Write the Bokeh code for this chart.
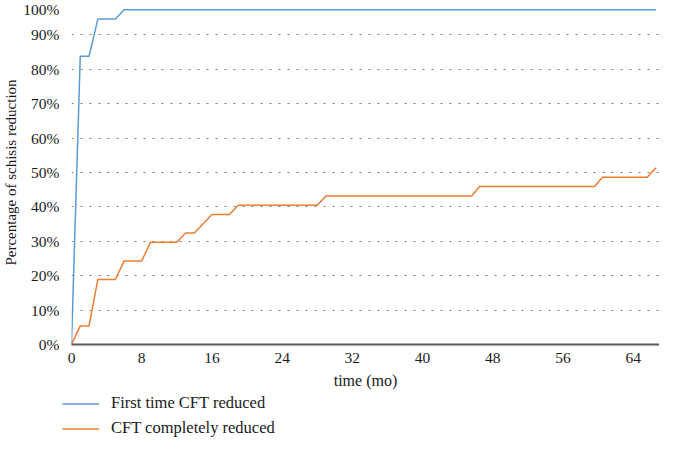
from bokeh.plotting import figure
from bokeh.layouts import column
from bokeh.models import Legend, LegendItem, PrintfTickFormatter, FixedTicker, Range1d
from bokeh.embed import file_html
from bokeh.resources import INLINE

# Data
months_first = [0, 1, 2, 3, 5, 6, 66.6]
pct_first = [0, 83.8, 83.8, 94.6, 94.6, 97.3, 97.3]

months_complete = [0, 1, 2, 3, 5, 6, 8, 9, 12, 13, 14, 16, 18, 19, 28, 29,
                   45.6, 46.5, 59.6, 60.5, 65.6, 66.6]
pct_complete = [0, 5.4, 5.4, 18.9, 18.9, 24.3, 24.3, 29.7, 29.7, 32.4, 32.4,
                37.8, 37.8, 40.5, 40.5, 43.2, 43.2, 45.9, 45.9, 48.6, 48.6, 51.4]

x_ticks = [0, 8, 16, 24, 32, 40, 48, 56, 64]
y_ticks = [0, 10, 20, 30, 40, 50, 60, 70, 80, 90, 100]

series_names = ["First time CFT reduced", "CFT completely reduced"]
series_colors = ["#5B9BD5", "#ED7D31"]

FONT = "Liberation Serif"
TEXT = "#1a1a1a"

p = figure(width=659, height=391, output_backend="svg", toolbar_location=None,
           x_range=Range1d(0, 67), y_range=Range1d(0, 100),
           min_border_left=0, min_border_right=0, min_border_top=0,
           min_border_bottom=40)
p.frame_align = False
p.outline_line_color = None
p.background_fill_color = "white"
p.border_fill_color = "white"

r1 = p.line(months_first, pct_first, line_color=series_colors[0], line_width=1.5)
r2 = p.line(months_complete, pct_complete, line_color=series_colors[1], line_width=1.5)

# Grid
p.xgrid.grid_line_color = None
p.ygrid.ticker = FixedTicker(ticks=y_ticks)
p.ygrid.grid_line_color = "#7a7a7a"
p.ygrid.grid_line_width = 1.2
p.ygrid.grid_line_dash = "2 7"

# Y axis
p.yaxis.ticker = FixedTicker(ticks=y_ticks)
p.yaxis.formatter = PrintfTickFormatter(format="%d%%")
p.yaxis.axis_line_color = None
p.yaxis.major_tick_line_color = None
p.yaxis.minor_tick_line_color = None
p.yaxis.major_label_standoff = 6
p.yaxis.major_label_text_font = FONT
p.yaxis.major_label_text_font_size = "15.5px"
p.yaxis.major_label_text_color = TEXT
p.yaxis.axis_label = "Percentage of schisis reduction"
p.yaxis.axis_label_text_font = FONT
p.yaxis.axis_label_text_font_size = "15px"
p.yaxis.axis_label_text_font_style = "normal"
p.yaxis.axis_label_text_color = TEXT
p.yaxis.axis_label_standoff = 1

# X axis
p.xaxis.ticker = FixedTicker(ticks=x_ticks)
p.xaxis.axis_line_color = "#5a5a5a"
p.xaxis.axis_line_width = 2
p.xaxis.major_tick_line_color = None
p.xaxis.minor_tick_line_color = None
p.xaxis.major_label_standoff = 2
p.xaxis.major_label_text_font = FONT
p.xaxis.major_label_text_font_size = "15.5px"
p.xaxis.major_label_text_color = TEXT
p.xaxis.axis_label = "time (mo)"
p.xaxis.axis_label_text_font = FONT
p.xaxis.axis_label_text_font_size = "16px"
p.xaxis.axis_label_text_font_style = "normal"
p.xaxis.axis_label_text_color = TEXT
p.xaxis.axis_label_standoff = 6

# Legend strip below the chart (its lines lie outside its own view)
lg = figure(width=659, height=47, output_backend="svg", toolbar_location=None,
            x_range=Range1d(-3, -2), y_range=Range1d(-3, -2),
            x_axis_type=None, y_axis_type=None,
            min_border_left=0, min_border_right=0, min_border_top=0,
            min_border_bottom=0)
lg.frame_align = False
lg.outline_line_color = None
lg.grid.visible = False
d1 = lg.line(months_first, pct_first, line_color=series_colors[0], line_width=1.5)
d2 = lg.line(months_complete, pct_complete, line_color=series_colors[1], line_width=1.5)

legend = Legend(items=[LegendItem(label=series_names[0], renderers=[d1]),
                       LegendItem(label=series_names[1], renderers=[d2])],
                location=(62, 0), orientation="vertical",
                border_line_color=None, background_fill_alpha=0,
                padding=0, margin=0, spacing=5,
                glyph_width=37, glyph_height=17, label_height=17,
                label_standoff=12,
                label_text_font=FONT, label_text_font_size="16.5px",
                label_text_color=TEXT)
lg.add_layout(legend, "center")

layout = column(p, lg, spacing=0)
open("out.html", "w").write(file_html(layout, INLINE))
